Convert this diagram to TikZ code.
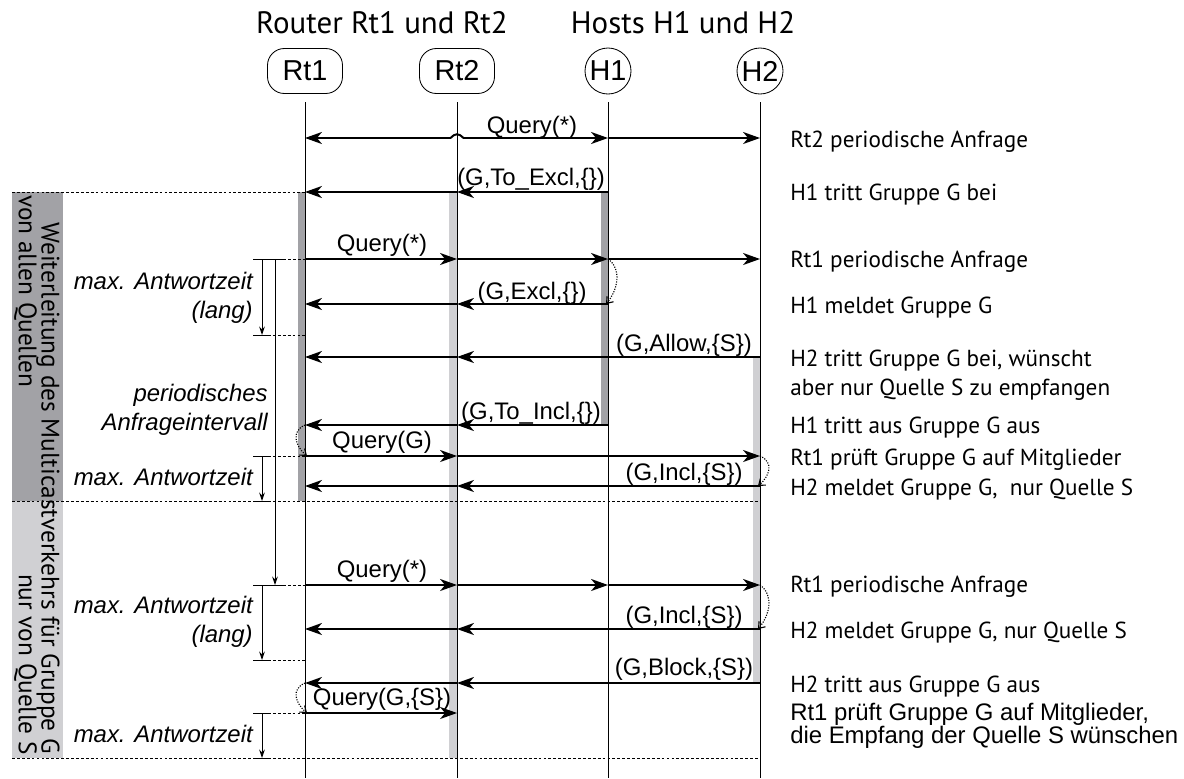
\documentclass[tikz,border=0pt]{standalone}
\usepackage{fontspec}
\setmainfont{Liberation Sans}
\newfontfamily\myriad{PT Sans}
\usepackage{tikz}
\usetikzlibrary{positioning,calc,arrows.meta}
\definecolor{BarDark}{RGB}{162,162,166}
\definecolor{BarLight}{RGB}{208,208,211}

\begin{document}
\begin{tikzpicture}[x=0.025cm,y=-0.025cm,
  every node/.style={inner sep=0pt},
  hdrbox/.style={draw,line width=0.6pt,rounded corners=12pt,minimum width=1.875cm,minimum height=1.125cm,font=\fontsize{20.5}{24}\selectfont},
  hdrcirc/.style={draw,circle,line width=0.6pt,minimum size=1.15cm,font=\fontsize{20.5}{24}\selectfont},
  title/.style={anchor=base,font=\myriad\fontsize{22}{26}\selectfont},
  life/.style={line width=0.7pt},
  msg/.style={line width=1.4pt,-{Stealth[length=12pt,width=8.5pt,inset=3.5pt]}},
  selfarr/.style={densely dotted,line width=0.8pt,-{Straight Barb[length=4pt,width=6pt]}},
  sepline/.style={line width=0.5pt,dash pattern=on 2pt off 1.5pt},
  tickline/.style={line width=0.7pt},
  interval/.style={line width=0.7pt,-{Stealth[length=6pt,width=4pt]}},
  lbl/.style={anchor=base,font=\fontsize{17}{20}\selectfont},
  timelbl/.style={anchor=base east,align=right,font=\itshape\fontsize{17}{20.5}\selectfont},
  note/.style={anchor=base west,align=left,font=\myriad\fontsize{16.5}{20}\selectfont},
  bandtxt/.style={rotate=-90,font=\myriad\fontsize{18}{22}\selectfont}]
\useasboundingbox (0,0) rectangle (1184,778);

% rows of the sequence
\foreach \n/\y in {top/102,q1/138,jn/192,q2/259,ex/304,la/335,al/357,ti/425,qg/456,ic/486,sa/501,
                   q3/585,icb/629,lb/660,bl/683,qs/713,sb/758,bot/778}
  \coordinate (\n) at (0,\y);
\coordinate (tA) at (262,0);
\coordinate (tB) at (275,0);

% participants
\node[hdrbox] (rt1) at (305,71) {Rt1};
\node[hdrbox] (rt2) at (457,71) {Rt2};
\node[hdrcirc] (h1) at (608,71) {H1};
\node[hdrcirc] (h2) at (760,71) {H2};
\node[title] at (382,33) {Router Rt1 und Rt2};
\node[title] at (683,33) {Hosts H1 und H2};

% left bands
\fill[BarDark] (12,192) rectangle (63,501);
\fill[BarLight] (12,501) rectangle (63,758);
\node[bandtxt,anchor=south west] at (36,222) {Weiterleitung des Multicastverkehrs für Gruppe G};
\node[bandtxt,anchor=south west] at (14,195) {von allen Quellen};
\node[bandtxt,anchor=south east] at (14,755) {nur von Quelle S};

% activation bars
\fill[BarDark] ($(rt1|-jn)+(-7,0)$) rectangle (rt1|-sa);
\fill[BarLight] ($(rt2|-jn)+(-8,0)$) rectangle (rt2|-sb);
\fill[BarDark] ($(h1|-jn)+(-7,0)$) rectangle (h1|-ti);
\fill[BarLight] ($(h2|-al)+(-7,0)$) rectangle (h2|-bl);

% lifelines
\foreach \p in {rt1,rt2,h1,h2}
  \draw[life] (\p|-top) -- (\p|-bot);

% separators
\draw[sepline] (12,192) -- (rt1|-jn);
\draw[sepline] (12,501) -- (h2|-sa);
\draw[sepline] (12,758) -- (h2|-sb);
\foreach \r/\x in {q2/283,la/268,qg/268,q3/283,lb/268,qs/268}
  \draw[sepline] (\x,0 |- \r) -- (rt1|-\r);

% messages
\draw[msg] ($(rt2|-q1)+(-6,0)$) -- (rt1|-q1);
\draw[msg] ($(rt2|-q1)+(6,0)$) -- (h1|-q1);
\draw[line width=1.4pt] ($(rt2|-q1)+(-6.5,0)$) .. controls ($(rt2|-q1)+(-2,-5)$) and ($(rt2|-q1)+(2,-5)$) .. ($(rt2|-q1)+(6.5,0)$);
\foreach \a/\b/\r in {h1/h2/q1, h1/rt2/jn, rt2/rt1/jn, rt1/rt2/q2, rt2/h1/q2, h1/h2/q2,
                      h1/rt2/ex, rt2/rt1/ex, h2/rt2/al, rt2/rt1/al, h1/rt2/ti, rt2/rt1/ti,
                      rt1/rt2/qg, rt2/h2/qg, h2/rt2/ic, rt2/rt1/ic, rt1/rt2/q3, rt2/h1/q3,
                      h1/h2/q3, h2/rt2/icb, rt2/rt1/icb, h2/rt2/bl, rt2/rt1/bl, rt1/rt2/qs}
  \draw[msg] (\a|-\r) -- (\b|-\r);

% self checks
\draw[selfarr] (h1|-q2) .. controls +(14,10) and +(12,-14) .. ($(h1|-ex)+(-2,0)$);
\draw[selfarr] (rt1|-ti) .. controls +(-14,6) and +(-12,-10) .. ($(rt1|-qg)+(2,0)$);
\draw[selfarr] (h2|-qg) .. controls +(14,6) and +(12,-10) .. ($(h2|-ic)+(-2,0)$);
\draw[selfarr] (h2|-q3) .. controls +(14,10) and +(12,-14) .. ($(h2|-icb)+(-2,0)$);
\draw[selfarr] (rt1|-bl) .. controls +(-14,6) and +(-12,-10) .. ($(rt1|-qs)+(2,0)$);

% message labels
\node[lbl] at (532,133) {Query(*)};
\node[lbl] at (531,185) {(G,To\_Excl,\{\})};
\node[lbl] at (382,251) {Query(*)};
\node[lbl] at (532,299) {(G,Excl,\{\})};
\node[lbl] at (684,351) {(G,Allow,\{S\})};
\node[lbl] at (531,419) {(G,To\_Incl,\{\})};
\node[lbl] at (382,448) {Query(G)};
\node[lbl] at (684,480) {(G,Incl,\{S\})};
\node[lbl] at (382,577) {Query(*)};
\node[lbl] at (684,623) {(G,Incl,\{S\})};
\node[lbl] at (684,675) {(G,Block,\{S\})};
\node[lbl] at (382,705) {Query(G,\{S\})};

% time intervals
\draw[tickline] (253,259) -- (283,259);
\foreach \r/\x in {la/268,qg/268,sa/268,q3/283,lb/268,qs/268,sb/268}
  \draw[tickline] (253,0 |- \r) -- (\x,0 |- \r);
\draw[interval] (tA|-q2) -- (tA|-la);
\draw[interval] (tB|-q2) -- (tB|-q3);
\draw[interval] (tA|-qg) -- (tA|-sa);
\draw[interval] (tA|-q3) -- (tA|-lb);
\draw[interval] (tA|-qs) -- (tA|-sb);
\node[timelbl] at (253,318) {max. Antwortzeit\\(lang)};
\node[timelbl] at (268,430) {periodisches\\Anfrageintervall};
\node[timelbl] at (253,485) {max. Antwortzeit};
\node[timelbl] at (253,642) {max. Antwortzeit\\(lang)};
\node[timelbl] at (253,742) {max. Antwortzeit};

% comments on the right
\node[note] at (790,147) {Rt2 periodische Anfrage};
\node[note] at (790,200) {H1 tritt Gruppe G bei};
\node[note] at (790,267) {Rt1 periodische Anfrage};
\node[note] at (790,313) {H1 meldet Gruppe G};
\node[note] at (790,366) {H2 tritt Gruppe G bei, wünscht};
\node[note] at (790,395) {aber nur Quelle S zu empfangen};
\node[note] at (790,433) {H1 tritt aus Gruppe G aus};
\node[note] at (790,465) {Rt1 prüft Gruppe G auf Mitglieder};
\node[note] at (790,495) {H2 meldet Gruppe G,\ \ nur Quelle S};
\node[note] at (790,592) {Rt1 periodische Anfrage};
\node[note] at (790,638) {H2 meldet Gruppe G, nur Quelle S};
\node[note] at (790,692) {H2 tritt aus Gruppe G aus};
\node[note,font=\fontsize{17}{16}\selectfont] at (790,720) {Rt1 prüft Gruppe G auf Mitglieder,};
\node[note,font=\fontsize{17}{16}\selectfont] at (790,743) {die Empfang der Quelle S wünschen};
\end{tikzpicture}
\end{document}
